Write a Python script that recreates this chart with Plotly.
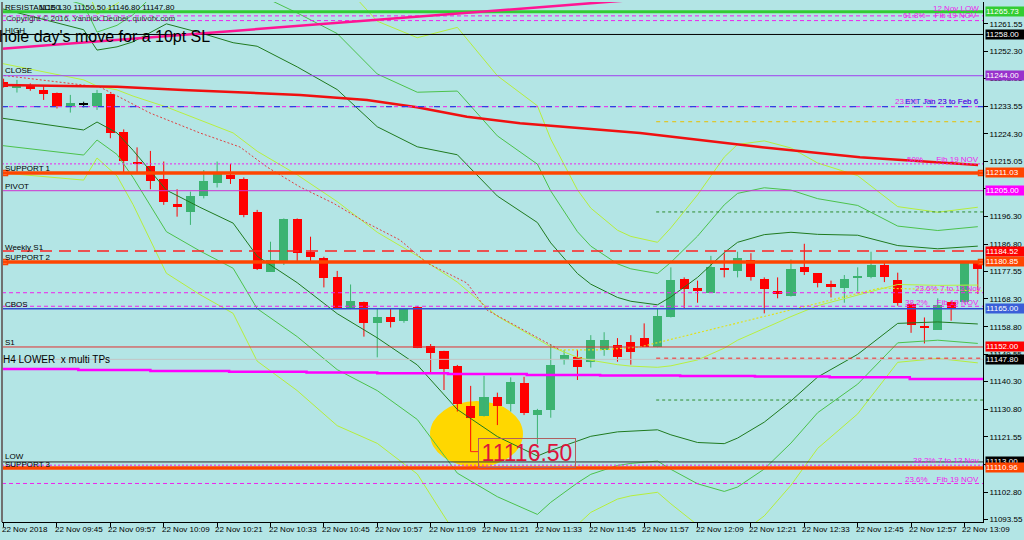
import plotly.graph_objects as go

# ---------------- data ----------------
opens = [11242.0, 11239.7, 11240.9, 11239.2, 11238.3, 11233.7, 11234.3, 11233.7, 11237.7, 11225.0,
         11214.9, 11213.4, 11208.9, 11200.4, 11197.9, 11203.2, 11207.7, 11210.3, 11208.9, 11197.9,
         11177.5, 11180.4, 11195.3, 11184.2, 11182.3, 11175.8, 11164.8, 11167.4, 11160.0, 11162.3,
         11160.9, 11165.7, 11152.3, 11150.7, 11145.6, 11132.0, 11128.6, 11135.1, 11132.6, 11139.7,
         11128.9, 11130.6, 11147.6, 11148.6, 11146.9, 11151.0, 11152.7, 11153.7, 11154.9, 11151.9,
         11162.0, 11175.1, 11171.9, 11170.4, 11178.8, 11177.9, 11181.5, 11174.9, 11171.1, 11169.3,
         11179.0, 11177.0, 11173.2, 11172.1, 11175.6, 11175.6, 11179.8, 11174.7, 11166.6, 11159.2,
         11157.8, 11167.4, 11167.4, 11180.4]
highs = [11243.0, 11242.6, 11241.4, 11240.5, 11238.3, 11237.5, 11235.2, 11239.2, 11238.0, 11225.8,
         11219.7, 11218.5, 11214.9, 11205.5, 11204.7, 11212.0, 11214.9, 11214.1, 11209.5, 11198.5,
         11187.7, 11195.6, 11195.6, 11189.4, 11182.6, 11177.8, 11173.2, 11167.4, 11165.1, 11165.1,
         11165.1, 11165.9, 11153.0, 11150.7, 11145.9, 11138.8, 11142.2, 11136.5, 11141.7, 11141.9,
         11131.0, 11153.0, 11151.0, 11151.0, 11156.0, 11157.0, 11155.0, 11156.0, 11160.0, 11165.1,
         11179.0, 11175.6, 11174.5, 11182.9, 11183.8, 11184.3, 11183.8, 11175.6, 11175.6, 11181.7,
         11187.0, 11177.0, 11174.5, 11176.4, 11179.0, 11184.3, 11180.5, 11177.2, 11166.8, 11162.0,
         11168.5, 11167.6, 11181.0, 11180.9]
lows = [11240.0, 11238.3, 11238.9, 11235.8, 11232.9, 11231.5, 11233.3, 11232.4, 11222.8, 11211.1,
        11211.1, 11205.5, 11200.2, 11196.2, 11193.4, 11202.4, 11206.1, 11207.3, 11196.0, 11178.1,
        11177.5, 11179.8, 11180.9, 11180.9, 11172.2, 11164.8, 11164.8, 11155.5, 11148.5, 11158.6,
        11160.2, 11151.6, 11143.3, 11137.4, 11130.1, 11116.5, 11128.4, 11125.5, 11130.1, 11128.9,
        11119.0, 11128.0, 11146.0, 11140.8, 11145.0, 11149.0, 11147.0, 11146.0, 11152.1, 11151.9,
        11162.0, 11165.1, 11167.0, 11170.4, 11175.6, 11175.6, 11174.5, 11163.4, 11168.5, 11169.1,
        11176.4, 11172.2, 11168.8, 11167.0, 11170.8, 11175.3, 11174.0, 11166.0, 11156.8, 11153.2,
        11157.8, 11160.9, 11167.0, 11170.0]
closes = [11240.3, 11241.2, 11239.4, 11237.8, 11233.7, 11234.9, 11234.3, 11238.0, 11224.5, 11215.2,
          11214.3, 11208.4, 11201.3, 11199.4, 11203.2, 11208.3, 11210.6, 11208.9, 11196.8, 11178.3,
          11181.5, 11195.3, 11184.0, 11182.6, 11175.3, 11165.1, 11167.6, 11160.2, 11162.1, 11160.6,
          11164.8, 11151.6, 11150.1, 11144.4, 11132.6, 11128.0, 11135.1, 11132.0, 11140.0, 11129.5,
          11130.6, 11146.0, 11149.3, 11145.2, 11154.4, 11154.4, 11148.6, 11150.3, 11152.1, 11162.5,
          11174.7, 11171.5, 11171.1, 11179.0, 11178.1, 11182.1, 11175.6, 11171.5, 11170.0, 11178.3,
          11177.5, 11173.6, 11172.5, 11175.1, 11176.0, 11179.8, 11175.9, 11166.8, 11159.4, 11158.5,
          11166.2, 11165.1, 11180.4, 11178.3]

x_tick_bars = [0, 4, 8, 12, 16, 20, 24, 28, 32, 36, 40, 44, 48, 52, 56, 60, 64, 68, 72]
x_tick_labels = ["22 Nov 2018", "22 Nov 09:45", "22 Nov 09:57", "22 Nov 10:09", "22 Nov 10:21",
                 "22 Nov 10:33", "22 Nov 10:45", "22 Nov 10:57", "22 Nov 11:09", "22 Nov 11:21",
                 "22 Nov 11:33", "22 Nov 11:45", "22 Nov 11:57", "22 Nov 12:09", "22 Nov 12:21",
                 "22 Nov 12:33", "22 Nov 12:45", "22 Nov 12:57", "22 Nov 13:09"]
y_tick_values = [11261.55, 11252.30, 11243.05, 11233.55, 11224.30, 11215.05, 11205.80, 11196.30,
                 11186.80, 11177.55, 11168.30, 11158.80, 11149.55, 11140.30, 11130.80, 11121.55,
                 11112.30, 11102.80, 11093.55]

# Bollinger (20) middle and standard deviation read at bar positions
bb_bar = [-0.27, 6, 7, 8.5, 9.7, 12.2, 14.7, 17.2, 19, 22, 25, 28, 31, 34, 37, 40, 41, 43, 44, 46,
          47, 49, 50, 52, 54, 55, 57, 59, 61, 64, 67, 70, 73]
bb_mid = [11248.3, 11242.6, 11240.5, 11239.2, 11237.1, 11233.4, 11229.0, 11224.6, 11218.4, 11210.4,
          11201.3, 11190.9, 11182.9, 11174.0, 11162.4, 11154.6, 11152.1, 11148.5, 11147.5, 11146.0,
          11145.5, 11145.1, 11145.6, 11147.6, 11151.6, 11154.3, 11158.3, 11162.3, 11166.0, 11169.7,
          11173.2, 11172.9, 11173.0]
bb_sd = [9.3, 8.5, 6.1, 7.3, 9.2, 14.1, 14.8, 15.3, 17.8, 18.3, 19.0, 17.9, 18.5, 21.6, 20.4, 19.8,
         17.6, 14.2, 12.9, 11.4, 11.0, 10.6, 11.7, 14.0, 16.2, 16.6, 15.9, 14.3, 12.1, 10.1, 6.6, 6.2, 6.6]

# slow moving average (thick red)
ma_bar = [-0.27, 8.5, 13.44, 22.21, 27.23, 30.98, 34.72, 38.70, 47.69, 56.68, 64.17, 69.19, 73.02]
ma_val = [11240.86, 11240.28, 11239.16, 11237.47, 11235.77, 11233.29, 11230.11, 11227.87, 11224.58,
          11219.83, 11216.33, 11214.84, 11213.72]

# dotted fast average (red while falling, yellow afterwards)
fast_dn_bar = [-0.27, 7.22, 10.97, 14.72, 17.71, 19.74, 22.21, 24.68, 27.23, 29.70, 31.73, 34.72, 36.22, 38.70, 41.69]
fast_dn_val = [11244.25, 11240.18, 11231.36, 11224.58, 11219.83, 11213.04, 11206.26, 11200.83, 11194.05,
               11188.28, 11180.48, 11173.69, 11164.53, 11158.43, 11151.0]
fast_up_bar = [41.69, 44.69, 47.69, 65.67, 73.3]
fast_up_val = [11151.0, 11151.0, 11152.0, 11172.0, 11171.0]

# H4 lower band (step line)
h4_bar = [-0.3, 5.6, 11.0, 16.9, 22.7, 28.0, 33.3, 39.2, 44.7, 50.7, 56.3, 61.9, 67.9, 73.4]
h4_val = [11144.5, 11144.2, 11143.85, 11143.6, 11143.3, 11143.05, 11142.8, 11142.5, 11142.3, 11142.15,
          11142.0, 11141.7, 11141.1, 11141.1]

# trend line anchors
trend_bar = [-0.27, 50.0]
trend_val = [11253.07, 11270.7]

# horizontal levels
lvl_12nov_low = 11265.73
lvl_fib618_a = 11264.3
lvl_fib618_b = 11262.7
lvl_high = 11258.00
lvl_close = 11244.00
lvl_ext236 = 11233.5
lvl_tp_yellow = 11228.4
lvl_fib50 = 11214.1
lvl_support1 = 11211.03
lvl_pivot = 11205.00
lvl_tp_green1 = 11197.8
lvl_weekly_s1 = 11184.52
lvl_support2 = 11180.85
lvl_fib236_7to13 = 11170.4
lvl_fib382_19 = 11165.8
lvl_cbos = 11165.00
lvl_s1 = 11152.00
lvl_tp_red = 11148.2
lvl_bid = 11147.80
lvl_tp_green2 = 11134.0
lvl_low = 11113.00
lvl_fib382_7to13 = 11111.9
lvl_support3 = 11110.96
lvl_fib236_19 = 11105.7
tp_start_bar = 48.9
low_mark = 11116.50
low_mark_bar = 35

# ---------------- layout helpers ----------------
BG = '#B3E5E5'
X0, X1 = -0.12, 73.39
Y0, Y1 = 11092.63, 11269.01
PL, PR, PT, PB = 2, 983, 2, 522


def px_x(px):
    return (px - PL) / (PR - PL)


def px_y(py):
    return 1 - (py - PT) / (PB - PT)


def bar_at(px):
    return X0 + (px - PL) / (PR - PL) * (X1 - X0)


def price_at(py):
    return Y1 - (py - PT) / (PB - PT) * (Y1 - Y0)


fig = go.Figure()

# ---------------- candles ----------------
BULL, BEAR, DOJI = '#3CB371', '#FF0000', '#000000'
n = len(opens)
cols = [BULL if c > o else (BEAR if c < o else DOJI) for o, c in zip(opens, closes)]
for col in (BULL, BEAR, DOJI):
    xs, ys = [], []
    for i in range(n):
        if cols[i] == col:
            xs += [i, i, None]
            ys += [lows[i], highs[i], None]
    if xs:
        fig.add_trace(go.Scatter(x=xs, y=ys, mode='lines', line=dict(color=col, width=1),
                                 hoverinfo='skip', showlegend=False))
body_h = [max(abs(c - o), 0.35) for o, c in zip(opens, closes)]
body_b = [min(o, c) - (0.175 if c == o else 0) for o, c in zip(opens, closes)]
fig.add_trace(go.Bar(x=list(range(n)), y=body_h, base=body_b, width=0.68,
                     marker=dict(color=cols, line=dict(width=0)), hoverinfo='skip', showlegend=False))

# ---------------- Bollinger bands ----------------
band_cols = {2: '#1F7A1F', 3: '#4CC24C', 4: '#B6EE3C'}
for k, col in band_cols.items():
    up = [m + k * s for m, s in zip(bb_mid, bb_sd)]
    dn = [m - k * s for m, s in zip(bb_mid, bb_sd)]
    for series in (up, dn):
        fig.add_trace(go.Scatter(x=bb_bar, y=series, mode='lines', line=dict(color=col, width=1),
                                 hoverinfo='skip', showlegend=False))
fig.add_trace(go.Scatter(x=bb_bar, y=bb_mid, mode='lines', line=dict(color='#B8F040', width=1),
                         hoverinfo='skip', showlegend=False))

# dotted fast average
fig.add_trace(go.Scatter(x=fast_dn_bar, y=fast_dn_val, mode='lines',
                         line=dict(color='#E04040', width=1, dash='2px,2px'), hoverinfo='skip', showlegend=False))
fig.add_trace(go.Scatter(x=fast_up_bar, y=fast_up_val, mode='lines',
                         line=dict(color='#E0E020', width=1.2, dash='2px,2px'), hoverinfo='skip', showlegend=False))

# H4 lower
fig.add_trace(go.Scatter(x=h4_bar, y=h4_val, mode='lines', line=dict(color='#FF00FF', width=2.5, shape='hv'),
                         hoverinfo='skip', showlegend=False))
# slow MA
fig.add_trace(go.Scatter(x=ma_bar, y=ma_val, mode='lines', line=dict(color='#F01010', width=2.5),
                         hoverinfo='skip', showlegend=False))

# ---------------- shapes ----------------
shapes = []


def hline(price, color, width=1, dash='solid', start=None):
    if start is None:
        shapes.append(dict(type='line', xref='paper', x0=0, x1=1, yref='y', y0=price, y1=price,
                           line=dict(color=color, width=width, dash=dash), layer='above'))
    else:
        shapes.append(dict(type='line', xref='x', x0=start, x1=X1, yref='y', y0=price, y1=price,
                           line=dict(color=color, width=width, dash=dash), layer='above'))


# gold ellipse (below candles)
shapes.append(dict(type='circle', xref='x', yref='y', x0=bar_at(430), x1=bar_at(523),
                   y0=price_at(467), y1=price_at(401), fillcolor='#FFD700',
                   line=dict(width=0), layer='below'))

MAG = '#EE22EE'
hline(lvl_fib618_a, MAG, 1, '4px,3px')
hline(lvl_fib618_b, MAG, 1, '4px,3px')
hline(lvl_high, '#000000', 1)
hline(lvl_close, '#A040F0', 1)
hline(lvl_ext236, MAG, 1, '4px,3px')
hline(lvl_ext236, '#3040E0', 1.2, '6px,10px')
hline(lvl_tp_yellow, '#E8C000', 1, '4px,4px', start=tp_start_bar)
hline(lvl_fib50, MAG, 1, '2px,2px')
hline(lvl_pivot, '#D030D0', 1)
hline(lvl_tp_green1, '#2E8B2E', 1, '3px,3px', start=tp_start_bar)
hline(lvl_weekly_s1, '#FF2020', 1.5, '12px,7px')
hline(lvl_fib236_7to13, MAG, 1, '4px,3px')
hline(lvl_fib382_19, MAG, 1, '4px,3px')
hline(lvl_cbos, '#3050D0', 1.5)
hline(lvl_s1, '#E03030', 1)
hline(lvl_bid, '#C4C4C4', 1)
hline(lvl_tp_red, '#FF2020', 1, '4px,4px', start=tp_start_bar)
hline(lvl_tp_green2, '#2E8B2E', 1, '3px,3px', start=tp_start_bar)
hline(lvl_low, '#303030', 1)
hline(lvl_fib382_7to13, MAG, 1, '2px,2px')
hline(lvl_fib236_19, MAG, 1, '4px,3px')
hline(lvl_12nov_low, '#32CD32', 3)
hline(lvl_support1, '#FF4500', 3.5)
hline(lvl_support2, '#FF4500', 3.5)
hline(lvl_support3, '#FF4500', 3.5)
# pink trend line
shapes.append(dict(type='line', xref='x', yref='y', x0=trend_bar[0], x1=trend_bar[1],
                   y0=trend_val[0], y1=trend_val[1], line=dict(color='#FF1493', width=2.5), layer='above'))
# leader line from the low to its label
shapes.append(dict(type='line', xref='x', yref='y', x0=low_mark_bar, x1=bar_at(479),
                   y0=low_mark, y1=low_mark, line=dict(color='#FF2020', width=1), layer='above'))
# left border
shapes.append(dict(type='line', xref='paper', yref='paper', x0=0, x1=0, y0=0, y1=1,
                   line=dict(color='#707070', width=2), layer='above'))

# small anchor squares on support lines
fig.add_trace(go.Scatter(x=[bar_at(5), bar_at(5), bar_at(981), bar_at(981)],
                         y=[lvl_support1, lvl_support2, lvl_support1, lvl_support2], mode='markers',
                         marker=dict(symbol='square', size=5, color='white', line=dict(color='#FF4500', width=1.5)),
                         cliponaxis=False, hoverinfo='skip', showlegend=False))

# ---------------- annotations ----------------
ann = []
FONT = 'Liberation Sans, Arial, sans-serif'


def text(px, py, s, size=8, color='#000000', anchor='left', **kw):
    ann.append(dict(xref='paper', yref='paper', x=px_x(px), y=px_y(py), text=s, showarrow=False,
                    xanchor=anchor, yanchor='middle', font=dict(family=FONT, size=size, color=color),
                    borderpad=0, **kw))


# header and left labels
text(4, 8, 'RESISTANCE 1')
text(38, 8, '11150.30 11150.50 11146.80 11147.80')
text(5, 19, 'Copyright © 2016, Yannick Deubel, quivofx.com', color='#303030')
text(4, 30, 'HIGH')
text(-2, 37, "hole day's move for a 10pt SL", size=16)
text(4, 71, 'CLOSE')
text(4, 168, 'SUPPORT 1')
text(4, 186, 'PIVOT')
text(4, 247, 'Weekly S1')
text(4, 257, 'SUPPORT 2')
text(4, 304, 'CBOS')
text(4, 342, 'S1')
text(2, 359, 'H4 LOWER  x multi TPs', size=10)
text(4, 456, 'LOW')
text(4, 464, 'SUPPORT 3')

# fib labels on the right
text(980, 9, '12 Nov LOW', color=MAG, anchor='right')
text(978, 15, '61.8%    Fib 19 NOV', color=MAG, anchor='right')
text(980, 101, '23.6%   Fib 23 to Feb 6', color=MAG, anchor='right')
text(980, 101, 'EXT Jan 23 to Feb 6', color='#2030E0', anchor='right')
text(980, 159, '50%      Fib 19 NOV', color=MAG, anchor='right')
text(982, 288, '23.6% 7 to 13 Nov', color=MAG, anchor='right')
text(980, 302, '38.2%    Fib 19 NOV', color=MAG, anchor='right')
text(980, 460, '38.2% 7 to 13 Nov', color=MAG, anchor='right')
text(980, 479, '23.6%    Fib 19 NOV', color=MAG, anchor='right')

# low price label
ann.append(dict(xref='x', yref='y', x=bar_at(527), y=price_at(453), text=f'{low_mark:.2f}',
                showarrow=False, xanchor='center', yanchor='middle',
                font=dict(family=FONT, size=23, color='#DC143C'),
                bordercolor='#B06060', borderwidth=1, borderpad=1, width=94, height=26))

# price boxes on the right axis
boxes = [(lvl_12nov_low, '#32CD32'), (lvl_high, '#000000'), (lvl_close, '#9932CC'),
         (lvl_support1, '#FF4500'), (lvl_pivot, '#FF00FF'), (lvl_weekly_s1, '#FF0000'),
         (lvl_support2, '#FF4500'), (lvl_cbos, '#3A5FD8'), (lvl_s1, '#FF0000'),
         (lvl_bid, '#000000'), (lvl_low, '#000000'), (lvl_support3, '#FF4500')]
for val, col in boxes:
    ann.append(dict(xref='paper', yref='y', x=1, y=val, xanchor='left', yanchor='middle', xshift=2,
                    text=f'{val:.2f}', showarrow=False, bgcolor=col, borderpad=0, width=38, height=9,
                    align='left', font=dict(family=FONT, size=8, color='white')))

# x tick labels (left aligned at the tick, MT4 style)
for b, lab in zip(x_tick_bars, x_tick_labels):
    ann.append(dict(xref='x', yref='paper', x=b, y=0, xanchor='left', yanchor='top', xshift=-3, yshift=-2,
                    text=lab, showarrow=False, font=dict(family=FONT, size=8, color='#000000'), borderpad=0))

fig.update_layout(
    width=1024, height=540, margin=dict(l=PL, r=1024 - PR, t=PT, b=540 - PB),
    paper_bgcolor=BG, plot_bgcolor=BG, showlegend=False, bargap=0,
    font=dict(family=FONT, size=8, color='#000000'),
    xaxis=dict(range=[X0, X1], showgrid=False, zeroline=False, tickvals=x_tick_bars, ticks='outside',
               ticklen=4, tickcolor='#000000', showticklabels=False, showline=True, linecolor='#000000',
               linewidth=1, fixedrange=True),
    yaxis=dict(range=[Y0, Y1], side='right', showgrid=False, zeroline=False, tickvals=y_tick_values,
               ticktext=[f'{v:.2f}' for v in y_tick_values], ticks='outside', ticklen=4, tickcolor='#000000',
               tickfont=dict(family=FONT, size=8, color='#000000'), showline=True, linecolor='#000000',
               linewidth=1, fixedrange=True),
    shapes=shapes, annotations=ann,
)

fig.write_html("out.html", config={'displayModeBar': False},
               post_script="document.body.style.margin='0';document.body.style.padding='0';"
                           "document.body.style.overflow='hidden';"
                           "document.documentElement.style.background='" + BG + "';")
